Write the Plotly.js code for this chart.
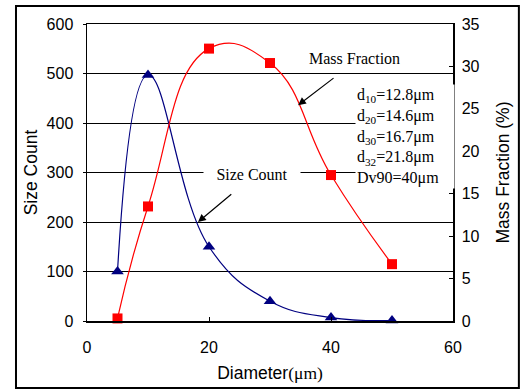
<!DOCTYPE html>
<html>
<head>
<meta charset="utf-8">
<script src="https://cdn.plot.ly/plotly-3.0.1.min.js"></script>
<style>html,body{margin:0;padding:0;background:#fff;}#chart{width:521px;height:390px;}</style>
</head>
<body>
<div id="chart"></div>
<script>
// Data
const diameter = [5, 10, 20, 30, 40, 50];
const sizeCount = [100, 497, 150, 40, 7, 1];
const massFraction = [0.3, 13.5, 32.1, 30.4, 17.2, 6.7];
const statsLines = ['d<sub>10</sub>=12.8μm', 'd<sub>20</sub>=14.6μm', 'd<sub>30</sub>=16.7μm', 'd<sub>32</sub>=21.8μm', 'Dv90=40μm'];

const SANS = 'Liberation Sans, Arial, sans-serif';
const SERIF = 'Liberation Serif, Times New Roman, serif';

const traces = [
  {
    x: diameter, y: sizeCount, name: 'Size Count', type: 'scatter', mode: 'lines+markers',
    line: {color: '#000080', width: 1.2, shape: 'spline', smoothing: 1.2},
    marker: {symbol: 'triangle-up', size: 11, color: '#000080'},
    yaxis: 'y', cliponaxis: false
  },
  {
    x: diameter, y: massFraction, name: 'Mass Fraction', type: 'scatter', mode: 'lines+markers',
    line: {color: '#ff0000', width: 1.2, shape: 'spline', smoothing: 1.3},
    marker: {symbol: 'square', size: 10, color: '#ff0000'},
    yaxis: 'y2', cliponaxis: false
  }
];

const layout = {
  width: 521, height: 390,
  margin: {l: 87, r: 68, t: 24, b: 69},
  paper_bgcolor: '#fff', plot_bgcolor: '#fff',
  showlegend: false,
  font: {family: SANS, size: 16, color: '#000'},
  xaxis: {
    range: [0, 60], dtick: 20, tick0: 0,
    showgrid: false, zeroline: false,
    showline: true, linecolor: '#000', linewidth: 1.5, mirror: true,
    ticks: 'inside', ticklen: 4, tickcolor: '#000',
    ticklabelstandoff: 11,
    tickfont: {family: SANS, size: 16},
    title: {text: 'Diameter<span style="font-family:Liberation Serif">(μm)</span>', font: {family: SANS, size: 17.5}, standoff: 12}
  },
  yaxis: {
    range: [0, 600], dtick: 100, tick0: 0,
    showgrid: true, gridcolor: '#000', gridwidth: 1, zeroline: false,
    showline: true, linecolor: '#000', linewidth: 1.5,
    ticks: 'outside', ticklen: 3, tickcolor: '#000',
    ticklabelstandoff: 6,
    tickfont: {family: SANS, size: 16},
    title: {text: 'Size Count', font: {family: SANS, size: 17.5}, standoff: 4}
  },
  yaxis2: {
    range: [0, 35], dtick: 5, tick0: 0, overlaying: 'y', side: 'right',
    showgrid: false, zeroline: false,
    showline: true, linecolor: '#000', linewidth: 1.5,
    ticks: 'inside', ticklen: 4, tickcolor: '#000',
    ticklabelstandoff: 4,
    tickfont: {family: SANS, size: 16},
    title: {text: 'Mass Fraction (%)', font: {family: SANS, size: 17.5}, standoff: 18}
  },
  shapes: [
    {type: 'rect', xref: 'paper', yref: 'paper', x0: -0.194, x1: 1.18, y0: -0.2256, y1: 1.0606,
     line: {color: '#000', width: 2}, fillcolor: 'rgba(0,0,0,0)', layer: 'above'}
  ],
  annotations: [
    {x: 43.8, y: 531, xref: 'x', yref: 'y', text: 'Mass Fraction', showarrow: false,
     font: {family: SERIF, size: 16}, xanchor: 'center', yanchor: 'middle'},
    {x: 27.05, y: 296, xref: 'x', yref: 'y', text: 'Size Count', showarrow: false,
     font: {family: SERIF, size: 16}, xanchor: 'center', yanchor: 'middle',
     bgcolor: '#fff', width: 92, borderpad: 2},
    {x: 43.9, y: 372, xref: 'x', yref: 'y', text: statsLines.join('<br>'), showarrow: false,
     font: {family: SERIF, size: 16}, xanchor: 'left', yanchor: 'middle', align: 'left',
     bgcolor: '#fff', borderpad: 1, width: 96},
    {x: 34.6, y: 436, xref: 'x', yref: 'y', ax: 40.66, ay: 493, axref: 'x', ayref: 'y',
     text: '', showarrow: true, arrowhead: 2, arrowsize: 1.3, arrowwidth: 1.2, arrowcolor: '#000'},
    {x: 18.2, y: 200, xref: 'x', yref: 'y', ax: 23.9, ay: 258.6, axref: 'x', ayref: 'y',
     text: '', showarrow: true, arrowhead: 2, arrowsize: 1.3, arrowwidth: 1.2, arrowcolor: '#000'}
  ]
};

Plotly.newPlot('chart', traces, layout, {displayModeBar: false, staticPlot: true});
</script>
</body>
</html>
